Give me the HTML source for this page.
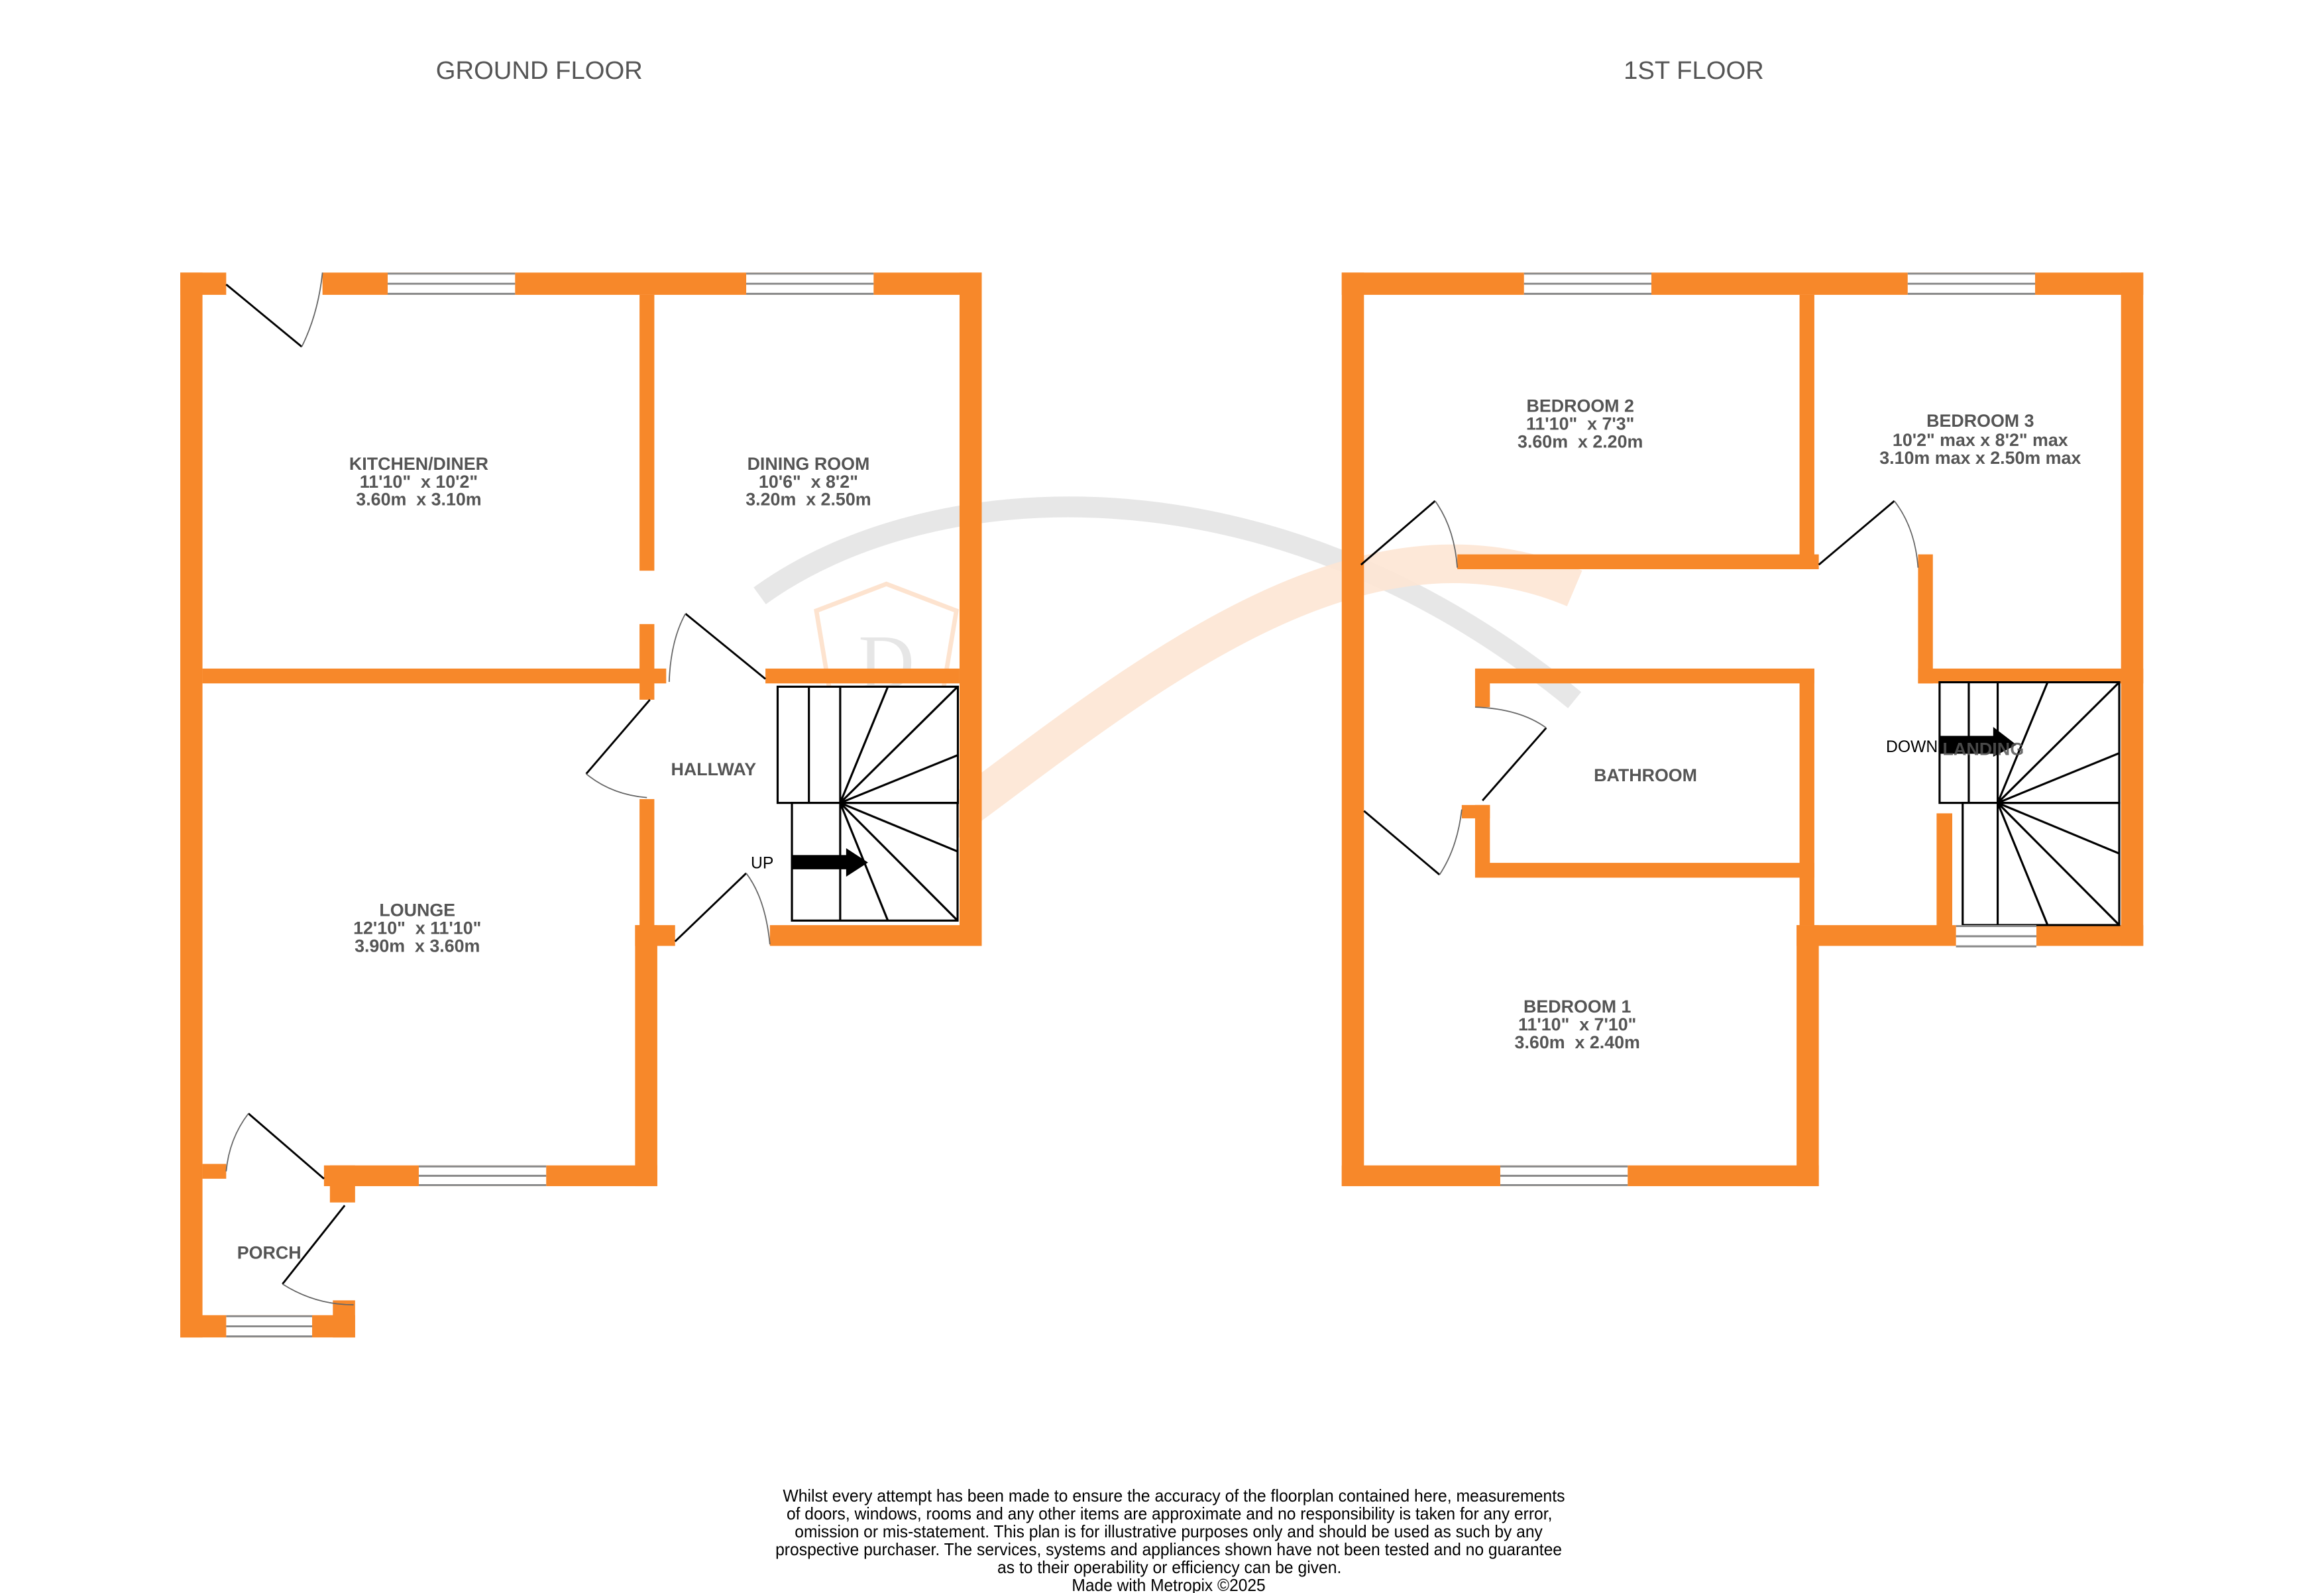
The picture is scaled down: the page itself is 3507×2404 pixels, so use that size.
<!DOCTYPE html>
<html><head><meta charset="utf-8"><style>html,body{margin:0;padding:0;background:#fff}svg{display:block}text{white-space:pre}</style></head>
<body>
<svg xmlns="http://www.w3.org/2000/svg" width="3507" height="2404" viewBox="0 0 1560.05 1069.4" font-family="'Liberation Sans', sans-serif" xml:space="preserve">
<rect width="1560.05" height="1069.4" fill="#fff"/>
<g fill="none">
<path d="M510,400 C620,320 850,300 1057,470" stroke="#e4e4e4" stroke-width="14" opacity="0.9"/>
<path d="M565,600 C700,520 880,320 1057,395" stroke="#fde6d4" stroke-width="26" opacity="0.9"/>
<path d="M548,410 L595,392 L642,410 L632,470 L595,500 L558,470 Z" stroke="#fde3cf" stroke-width="3"/>
</g>
<text x="595" y="462" font-family="'Liberation Serif',serif" font-size="52" fill="#e6e6e6" text-anchor="middle">D</text>
<text x="591" y="535" font-family="'Liberation Serif',serif" font-size="22" fill="#e6e6e6" text-anchor="middle">Day &amp; Co</text>

<text x="362" y="53" font-size="17" fill="#555" text-anchor="middle">GROUND FLOOR</text>
<text x="1137" y="53" font-size="17" fill="#555" text-anchor="middle">1ST FLOOR</text>

<g transform="matrix(0.9945,0,0,0.9956,0.67,-0.2)">
<g fill="#f7882a">
<rect x="121" y="184" width="31" height="15"/>
<rect x="217" y="184" width="445" height="15"/>
<rect x="121" y="184" width="15" height="718"/>
<rect x="647" y="184" width="15" height="454"/>
<rect x="136" y="451" width="313" height="10"/>
<rect x="431" y="199" width="10" height="186"/>
<rect x="431" y="421" width="10" height="51"/>
<rect x="431" y="539" width="10" height="86"/>
<rect x="516" y="451" width="131" height="10"/>
<rect x="519" y="624" width="143" height="14"/>
<rect x="428" y="624" width="27" height="14"/>
<rect x="428" y="624" width="15" height="176"/>
<rect x="218" y="786" width="225" height="14"/>
<rect x="222" y="786" width="17" height="25"/>
<rect x="136" y="785" width="16" height="10"/>
<rect x="121" y="887" width="118" height="15"/>
<rect x="224" y="877" width="15" height="25"/>
<rect x="905" y="184" width="541" height="15"/>
<rect x="905" y="184" width="15" height="616"/>
<rect x="905" y="786" width="322" height="14"/>
<rect x="1212" y="624" width="15" height="176"/>
<rect x="1212" y="624" width="234" height="14"/>
<rect x="1431" y="184" width="15" height="454"/>
<rect x="1214" y="199" width="10" height="185"/>
<rect x="983" y="374" width="244" height="10"/>
<rect x="1294" y="374" width="10" height="87"/>
<rect x="1294" y="451" width="152" height="10"/>
<rect x="995" y="451" width="229" height="10"/>
<rect x="995" y="451" width="10" height="26"/>
<rect x="995" y="543" width="10" height="49"/>
<rect x="986" y="543" width="19" height="9"/>
<rect x="995" y="582" width="229" height="10"/>
<rect x="1214" y="451" width="10" height="173"/>
</g>
<g fill="#fff" stroke="#888" stroke-width="1.3">
<g><rect x="261" y="184" width="86" height="15" stroke="none"/><path d="M261,184.7H347M261,191.5H347M261,198.3H347"/></g>
<g><rect x="503" y="184" width="86" height="15" stroke="none"/><path d="M503,184.7H589M503,191.5H589M503,198.3H589"/></g>
<g><rect x="282" y="786" width="86" height="14" stroke="none"/><path d="M282,786.7H368M282,793H368M282,799.3H368"/></g>
<g><rect x="152" y="887" width="58" height="15" stroke="none"/><path d="M152,887.7H210M152,894.5H210M152,901.3H210"/></g>
<g><rect x="1028" y="184" width="86" height="15" stroke="none"/><path d="M1028,184.7H1114M1028,191.5H1114M1028,198.3H1114"/></g>
<g><rect x="1287" y="184" width="86" height="15" stroke="none"/><path d="M1287,184.7H1373M1287,191.5H1373M1287,198.3H1373"/></g>
<g><rect x="1012" y="786" width="86" height="14" stroke="none"/><path d="M1012,786.7H1098M1012,793H1098M1012,799.3H1098"/></g>
</g>
<g fill="none" stroke="#000" stroke-width="1.3">
<path d="M152,192 L203,234"/><path d="M203,234 Q214,212 217,184" stroke="#666" stroke-width="0.8"/>
<path d="M462,414 L516,458"/><path d="M451,460 Q452,432 462,414" stroke="#666" stroke-width="0.8"/>
<path d="M438,472 L395,522"/><path d="M395,522 Q412,536 436,538" stroke="#666" stroke-width="0.8"/>
<path d="M455,635 L503,589"/><path d="M503,589 Q516,606 519,637" stroke="#666" stroke-width="0.8"/>
<path d="M167,751 L218,795"/><path d="M167,751 Q154,768 152,790" stroke="#666" stroke-width="0.8"/>
<path d="M232,813 L190,866"/><path d="M190,866 Q212,880 238,880" stroke="#666" stroke-width="0.8"/>
<path d="M918,381 L968,338"/><path d="M968,338 Q981,356 983,383" stroke="#666" stroke-width="0.8"/>
<path d="M1227,381 L1278,338"/><path d="M1278,338 Q1292,356 1294,383" stroke="#666" stroke-width="0.8"/>
<path d="M1000,540 L1043,491"/><path d="M995,477 Q1025,478 1043,491" stroke="#666" stroke-width="0.8"/>
<path d="M920,547 L971,590"/><path d="M971,590 Q983,572 986,546" stroke="#666" stroke-width="0.8"/>
</g>
<g font-size="12" font-weight="bold" fill="#555" text-anchor="middle">
<text x="282" y="317">KITCHEN/DINER</text><text x="282" y="329">11'10"  x 10'2"</text><text x="282" y="341">3.60m  x 3.10m</text>
<text x="545" y="317">DINING ROOM</text><text x="545" y="329">10'6"  x 8'2"</text><text x="545" y="341">3.20m  x 2.50m</text>
<text x="481" y="523">HALLWAY</text>
<text x="281" y="618">LOUNGE</text><text x="281" y="630">12'10"  x 11'10"</text><text x="281" y="642">3.90m  x 3.60m</text>
<text x="181" y="849">PORCH</text>
<text x="1066" y="278">BEDROOM 2</text><text x="1066" y="290">11'10"  x 7'3"</text><text x="1066" y="302">3.60m  x 2.20m</text>
<text x="1336" y="288">BEDROOM 3</text><text x="1336" y="301">10'2" max x 8'2" max</text><text x="1336" y="313">3.10m max x 2.50m max</text>
<text x="1110" y="527">BATHROOM</text>
<text x="1064" y="683">BEDROOM 1</text><text x="1064" y="695">11'10"  x 7'10"</text><text x="1064" y="707">3.60m  x 2.40m</text>
</g>
</g>

<g fill="none" stroke="#000" stroke-width="1.4">
<rect x="522" y="461" width="121" height="78" fill="#fff"/>
<rect x="531.6" y="539" width="111.2" height="79" fill="#fff"/>
<path d="M543,461V539M564,461V618M564,539H642.8M564,539L596,461M564,539L642.8,461M564,539L642.8,507M564,539L642.8,571.6M564,539L642.8,618M564,539L596,618"/>
</g>
<path d="M531.6,574 H568 V569.4 L582.7,579 L568,588.5 V583.6 H531.6 Z" fill="#000"/>
<text x="504" y="583" font-size="11" fill="#000">UP</text>

<rect x="1300" y="546" width="10.5" height="76" fill="#f7882a"/>
<g fill="none" stroke="#000" stroke-width="1.4">
<rect x="1302" y="458" width="120.6" height="81" fill="#fff"/>
<rect x="1317.5" y="539" width="105.1" height="82" fill="#fff"/>
<path d="M1321.6,458V539M1341,458V621M1341,539H1422.6M1341,539L1374.5,458M1341,539L1422.6,458M1341,539L1422.6,505.6M1341,539L1422.6,573M1341,539L1422.6,621M1341,539L1374.5,621"/>
</g>
<g fill="#fff" stroke="#888" stroke-width="1.3"><rect x="1313" y="621" width="54" height="15" stroke="none"/><path d="M1313,621.7H1367M1313,628.5H1367M1313,635.3H1367"/></g>
<path d="M1302,494 H1338 V488 L1353.6,500 L1338,508 V506 H1302 Z" fill="#000"/>
<text x="1266" y="505" font-size="11" fill="#000">DOWN</text>
<text x="1304" y="507" font-size="12" font-weight="bold" fill="#555" opacity="0.85">LANDING</text>

<g font-size="11.5" fill="#000" text-anchor="middle">
<text x="788" y="1008" textLength="525" lengthAdjust="spacingAndGlyphs">Whilst every attempt has been made to ensure the accuracy of the floorplan contained here, measurements</text>
<text x="785" y="1020" textLength="514" lengthAdjust="spacingAndGlyphs">of doors, windows, rooms and any other items are approximate and no responsibility is taken for any error,</text>
<text x="784.5" y="1032" textLength="502" lengthAdjust="spacingAndGlyphs">omission or mis-statement. This plan is for illustrative purposes only and should be used as such by any</text>
<text x="784.5" y="1044" textLength="528" lengthAdjust="spacingAndGlyphs">prospective purchaser. The services, systems and appliances shown have not been tested and no guarantee</text>
<text x="785" y="1056" textLength="231" lengthAdjust="spacingAndGlyphs">as to their operability or efficiency can be given.</text>
<text x="784.5" y="1068" textLength="130" lengthAdjust="spacingAndGlyphs">Made with Metropix ©2025</text>
</g>
</svg>
</body></html>
